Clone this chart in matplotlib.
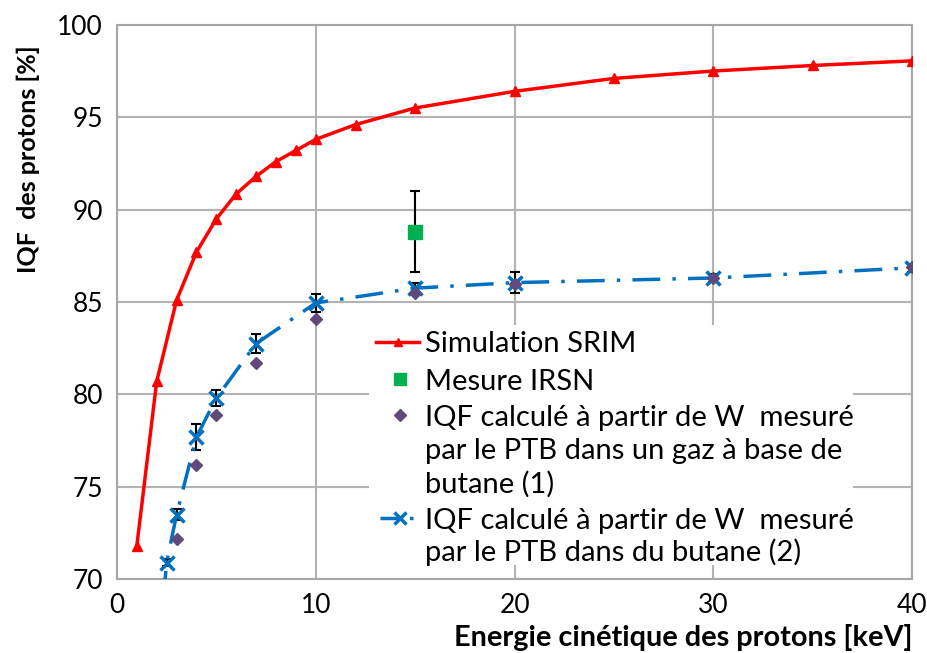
import numpy as np
import matplotlib.pyplot as plt
from matplotlib.lines import Line2D
from matplotlib.patches import Rectangle

plt.rcParams['font.family'] = ['Lato', 'DejaVu Sans']

# SRIM simulation
srim_E = [1, 2, 3, 4, 5, 6, 7, 8, 9, 10, 12, 15, 20, 25, 30, 35, 40]
srim_iqf = [71.8, 80.7, 85.1, 87.7, 89.5, 90.85, 91.8, 92.6, 93.2, 93.8,
            94.6, 95.5, 96.4, 97.1, 97.5, 97.8, 98.05]

# IRSN measurement
irsn_E = [15]
irsn_iqf = [88.8]
irsn_err = [2.2]

# PTB W values, butane-based gas (1)
gas_E = [3, 4, 5, 7, 10, 15, 20, 30, 40]
gas_iqf = [72.2, 76.2, 78.9, 81.7, 84.1, 85.5, 86.0, 86.3, 86.9]

# PTB W values, pure butane (2)
but_E = [2, 2.5, 3, 4, 5, 7, 10, 15, 20, 30, 40]
but_iqf = [65.0, 70.9, 73.5, 77.7, 79.8, 82.75, 84.95, 85.75, 86.05, 86.3, 86.85]
but_err = [0.2, 0.2, 0.3, 0.7, 0.45, 0.5, 0.5, 0.3, 0.55, 0.2, 0.2]

labels = [["Simulation SRIM"],
          ["Mesure IRSN"],
          ["IQF calculé à partir de W  mesuré",
           "par le PTB dans un gaz à base de",
           "butane (1)"],
          ["IQF calculé à partir de W  mesuré",
           "par le PTB dans du butane (2)"]]

red = '#ff0000'
blue = '#0070c0'
purple = '#604a7b'
green = '#00b050'
dashdot = (0, (8, 3.5, 1, 3.5))

fig = plt.figure(figsize=(9.28, 6.53), dpi=100)
ax = fig.add_axes([0.126, 0.113, 0.857, 0.849])

ax.plot(srim_E, srim_iqf, color=red, lw=2.5, marker='^', ms=7, zorder=4)
ax.errorbar(irsn_E, irsn_iqf, yerr=irsn_err, fmt='none', ecolor='black',
            elinewidth=1.5, capsize=3.5, capthick=1.5, zorder=4)
ax.plot(irsn_E, irsn_iqf, ls='none', marker='s', ms=10, color=green, zorder=5)
ax.errorbar(but_E, but_iqf, yerr=but_err, fmt='none', ecolor='black',
            elinewidth=1.5, capsize=3.5, capthick=1.5, zorder=4)
ax.plot(but_E, but_iqf, color=blue, lw=2.5, ls=dashdot,
        marker='x', ms=10, mew=2.5, zorder=5)
ax.plot(gas_E, gas_iqf, ls='none', marker='D', ms=6.5, color=purple, zorder=6)

ax.set_xlim(0, 40)
ax.set_ylim(70, 100)
ax.set_xticks([0, 10, 20, 30, 40])
ax.set_yticks([70, 75, 80, 85, 90, 95, 100])
ax.grid(True, color='#b3b3b3', lw=1.5)
ax.set_axisbelow(True)
for s in ax.spines.values():
    s.set_color('#a6a6a6')
    s.set_linewidth(1.5)
ax.tick_params(length=0, labelsize=19, pad=10)

ax.set_ylabel("IQF  des protons [%]", fontsize=18, fontweight='bold')
ax.yaxis.set_label_coords(-0.097, 0.758)
ax.set_xlabel("Energie cinétique des protons [keV]", fontsize=20.8,
              fontweight='bold', loc='right', labelpad=4)

# legend drawn by hand on a white panel
T = ax.transAxes
ax.add_patch(Rectangle((0.317, 0.025), 0.609, 0.433, transform=T,
                       facecolor='white', edgecolor='none', zorder=3))
ax.add_line(Line2D([0.326, 0.380], [0.428, 0.428], transform=T, color=red, lw=2.5, zorder=7))
ax.add_line(Line2D([0.353], [0.428], transform=T, color=red, marker='^', ms=6, zorder=7))
ax.add_line(Line2D([0.356], [0.361], transform=T, color=green, marker='s', ms=9, zorder=7))
ax.add_line(Line2D([0.356], [0.296], transform=T, color=purple, marker='D', ms=6, zorder=7))
ax.add_line(Line2D([0.331, 0.383], [0.110, 0.110], transform=T, color=blue, lw=2.5,
                   ls=(0, (6.5, 2, 1, 3)), zorder=7))
ax.add_line(Line2D([0.356], [0.110], transform=T, color=blue, marker='x', ms=9, mew=2.5, zorder=7))

line_y = [[0.428], [0.361], [0.296, 0.235, 0.175], [0.110, 0.054]]
for lab, ys in zip(labels, line_y):
    for txt, y in zip(lab, ys):
        ax.text(0.387, y, txt, transform=T, fontsize=21, va='center_baseline',
                ha='left', zorder=8)

fig.savefig("out.png", dpi=100)
